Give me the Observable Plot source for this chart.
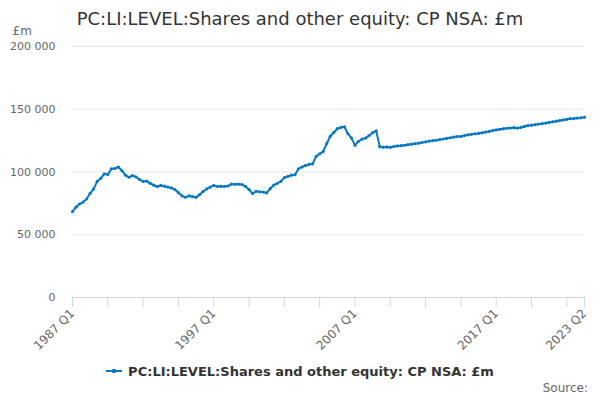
<!DOCTYPE html>
<html>
<head>
<meta charset="utf-8">
<script src="https://cdn.jsdelivr.net/npm/d3@7"></script>
<script src="https://cdn.jsdelivr.net/npm/@observablehq/plot@0.6"></script>
<style>
  body { margin: 0; background: #fff; font-family: "DejaVu Sans", sans-serif; }
  #wrap { position: relative; width: 600px; height: 400px; overflow: hidden; }
  #title { height: 20px; text-align: center; font-size: 18px; color: #333; line-height: 38px; white-space: nowrap; position: relative; z-index: 1; }
  #legend { height: 30px; display: flex; justify-content: center; align-items: center; font-size: 13px; font-weight: bold; color: #333; }
  #legend svg { margin-right: 6px; }
  #source { position: absolute; right: 12px; top: 381px; font-size: 12px; color: #666; }
</style>
</head>
<body>
<div id="wrap">
  <div id="title">PC:LI:LEVEL:Shares and other equity: CP NSA: £m</div>
  <div id="chart"></div>
  <div id="legend"><svg width="16" height="8"><line x1="0" y1="4" x2="16" y2="4" stroke="#0a78c2" stroke-width="2"/><circle cx="8" cy="4" r="2.2" fill="#0a78c2"/></svg><span>PC:LI:LEVEL:Shares and other equity: CP NSA: £m</span></div>
  <div id="source">Source:</div>
</div>
<script>
const seriesName = "PC:LI:LEVEL:Shares and other equity: CP NSA: £m";
const startYear = 1987;
const values = [
  68500, 72000, 74500, 76000, 78500, 83000, 86500, 92500, 95000, 98500,
  98000, 102500, 102800, 104000, 101000, 97500, 95800, 97200, 96000, 94000,
  92500, 92800, 91000, 89500, 88500, 89300, 88700, 88000, 87300, 86000,
  83500, 81000, 79900, 81000, 80300, 79800, 82000, 84500, 86500, 88000,
  89300, 88500, 88700, 88500, 88800, 90300, 90200, 90300, 90000, 88500,
  86000, 82800, 84600, 84200, 84000, 83300, 86800, 89500, 91000, 92500,
  95500, 96500, 97500, 97800, 102500, 104000, 105200, 106000, 106500, 112500,
  114500, 116300, 122700, 128500, 131500, 134500, 135500, 136000, 130500, 127000,
  121400, 124500, 126200, 127000, 129000, 131300, 132800, 120200, 119800, 120000,
  119700, 120300, 120800, 121000, 121300, 121800, 122200, 122600, 123000, 123500,
  124000, 124600, 125000, 125300, 125800, 126300, 126800, 127300, 127800, 128200,
  128300, 129000, 129600, 130000, 130400, 130700, 131200, 131800, 132300, 133000,
  133500, 134000, 134400, 134800, 135000, 135300, 135000, 135500, 136300, 137000,
  137300, 137700, 138200, 138500, 139000, 139500, 140000, 140500, 141000, 141500,
  142000, 142500, 142600, 143000, 143200, 143700
];
const quarters = values.map((_, i) => `${startYear + Math.floor(i / 4)} Q${(i % 4) + 1}`);
const xTicks = ["1987 Q1","1989 Q3","1992 Q1","1994 Q3","1997 Q1","1999 Q3","2002 Q1","2004 Q3","2007 Q1","2009 Q3","2012 Q1","2014 Q3","2017 Q1","2019 Q3","2022 Q1","2023 Q2"];
const xLabels = ["1987 Q1","1997 Q1","2007 Q1","2017 Q1","2023 Q2"];
const yTicks = [0, 50000, 100000, 150000, 200000];
const yUnit = "£m";

const data = quarters.map((q, i) => ({q, v: values[i]}));
const color = "#0a78c2";
const fmt = d => d3.format(",")(d).replace(/,/g, " ");

const chart = Plot.plot({
  width: 600,
  height: 336,
  marginTop: 26,
  marginLeft: 72,
  marginRight: 16,
  marginBottom: 59,
  style: {fontFamily: "DejaVu Sans, sans-serif", fontSize: "11px", color: "#666", background: "transparent"},
  x: {type: "point", domain: quarters, padding: 0},
  y: {domain: [0, 200000]},
  marks: [
    Plot.gridY(yTicks, {stroke: "#e6e6e6", strokeOpacity: 1}),
    Plot.axisY(yTicks, {tickSize: 0, tickPadding: 17, tickFormat: fmt, label: null, fill: "#666"}),
    Plot.text([yUnit], {frameAnchor: "top-left", dx: -60, dy: -20, textAnchor: "start", fill: "#666", fontSize: 12}),
    Plot.ruleY([0], {stroke: "#ccd6eb", strokeWidth: 1}),
    Plot.axisX(xTicks, {tickSize: 10, stroke: "#ccd6eb", tickRotate: -45, tickPadding: 4, fontSize: 12,
      tickFormat: d => xLabels.includes(d) ? d : "", label: null, fill: "#666"}),
    Plot.line(data, {x: "q", y: "v", stroke: color, strokeWidth: 2}),
    Plot.dot(data, {x: "q", y: "v", fill: color, r: 1.6})
  ]
});
document.getElementById("chart").appendChild(chart);
</script>
</body>
</html>
